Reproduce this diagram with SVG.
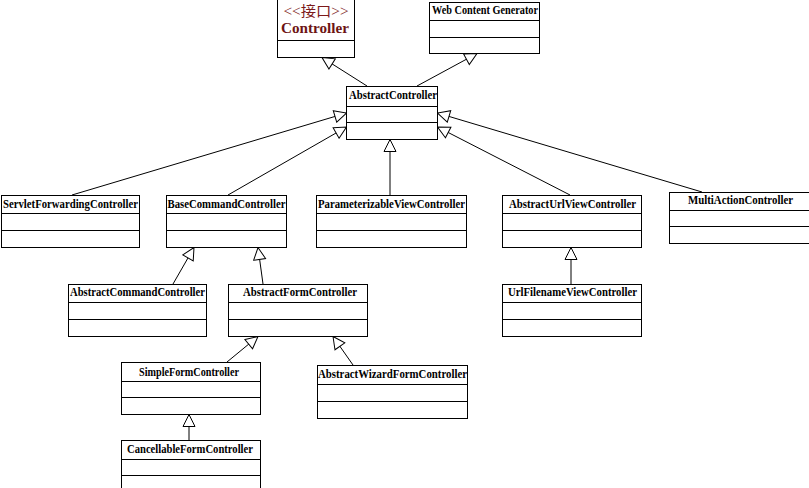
<svg xmlns="http://www.w3.org/2000/svg" width="809" height="488" viewBox="0 0 809 488">
<style>
.box{fill:#fff;stroke:#000;stroke-width:1}
.sep{stroke:#000;stroke-width:1}
.t{font-family:"Liberation Serif","Times New Roman",serif;font-weight:bold;font-size:11.5px;fill:#000;text-anchor:middle}
.c{stroke:#000;stroke-width:1;fill:none;marker-end:url(#gen)}
.st{font-family:"Liberation Serif","Noto Sans CJK SC",serif;font-size:14px;fill:#7d1a1a;text-anchor:middle}
.sn{font-family:"Liberation Serif","Times New Roman",serif;font-weight:bold;font-size:15px;fill:#6e1414;text-anchor:middle}
</style>
<defs>
<marker id="gen" markerUnits="userSpaceOnUse" markerWidth="14" markerHeight="14" viewBox="0 0 14 14" refX="13" refY="7" orient="auto">
<path d="M1,1 L13,7 L1,13 Z" fill="#fff" stroke="#000" stroke-width="1"/>
</marker>
</defs>
<rect width="809" height="488" fill="#fff"/>
<g id="connectors">
<line class="c" x1="367" y1="86" x2="322" y2="57.5"/>
<line class="c" x1="417" y1="86" x2="477" y2="53.5"/>
<line class="c" x1="72" y1="195" x2="346.5" y2="113"/>
<line class="c" x1="228" y1="195" x2="346.5" y2="127"/>
<line class="c" x1="390" y1="195" x2="390" y2="139.5"/>
<line class="c" x1="570" y1="195" x2="437.5" y2="127"/>
<line class="c" x1="702" y1="192" x2="437.5" y2="113"/>
<line class="c" x1="173" y1="284" x2="194" y2="247.5"/>
<line class="c" x1="263" y1="284" x2="258" y2="247.5"/>
<line class="c" x1="571" y1="284" x2="571" y2="247.5"/>
<line class="c" x1="227" y1="362" x2="258" y2="336.5"/>
<line class="c" x1="353" y1="365" x2="333" y2="336.5"/>
<line class="c" x1="189" y1="440" x2="189" y2="414.5"/>
</g>
<g id="Controller">
<rect class="box" x="277.5" y="-1.5" width="77" height="59"/>
<line class="sep" x1="277.5" y1="40.5" x2="354.5" y2="40.5"/>
<text class="st" x="316" y="16" textLength="65" lengthAdjust="spacingAndGlyphs">&lt;&lt;接口&gt;&gt;</text>
<text class="sn" x="315" y="33" textLength="68" lengthAdjust="spacingAndGlyphs">Controller</text>
</g>
<g id="WebContentGenerator">
<rect class="box" x="429.5" y="2.5" width="110" height="51"/>
<line class="sep" x1="429.5" y1="20.5" x2="539.5" y2="20.5"/>
<line class="sep" x1="429.5" y1="37.5" x2="539.5" y2="37.5"/>
<text class="t" x="485" y="14" textLength="106" lengthAdjust="spacingAndGlyphs">Web Content Generator</text>
</g>
<g id="AbstractController">
<rect class="box" x="346.5" y="86.5" width="91" height="53"/>
<line class="sep" x1="346.5" y1="106.5" x2="437.5" y2="106.5"/>
<line class="sep" x1="346.5" y1="122.5" x2="437.5" y2="122.5"/>
<text class="t" x="393" y="99" textLength="88" lengthAdjust="spacingAndGlyphs">AbstractController</text>
</g>
<g id="ServletForwardingController">
<rect class="box" x="1.5" y="195.5" width="138" height="52"/>
<line class="sep" x1="1.5" y1="213.5" x2="139.5" y2="213.5"/>
<line class="sep" x1="1.5" y1="230.5" x2="139.5" y2="230.5"/>
<text class="t" x="70.5" y="207.5" textLength="135" lengthAdjust="spacingAndGlyphs">ServletForwardingController</text>
</g>
<g id="BaseCommandController">
<rect class="box" x="166.5" y="195.5" width="120" height="52"/>
<line class="sep" x1="166.5" y1="213.5" x2="286.5" y2="213.5"/>
<line class="sep" x1="166.5" y1="230.5" x2="286.5" y2="230.5"/>
<text class="t" x="226.5" y="207.5" textLength="118" lengthAdjust="spacingAndGlyphs">BaseCommandController</text>
</g>
<g id="ParameterizableViewController">
<rect class="box" x="316.5" y="195.5" width="150" height="52"/>
<line class="sep" x1="316.5" y1="213.5" x2="466.5" y2="213.5"/>
<line class="sep" x1="316.5" y1="230.5" x2="466.5" y2="230.5"/>
<text class="t" x="391.5" y="207.5" textLength="147" lengthAdjust="spacingAndGlyphs">ParameterizableViewController</text>
</g>
<g id="AbstractUrlViewController">
<rect class="box" x="502.5" y="195.5" width="139" height="52"/>
<line class="sep" x1="502.5" y1="213.5" x2="641.5" y2="213.5"/>
<line class="sep" x1="502.5" y1="230.5" x2="641.5" y2="230.5"/>
<text class="t" x="572.5" y="207.5" textLength="127" lengthAdjust="spacingAndGlyphs">AbstractUrlViewController</text>
</g>
<g id="MultiActionController">
<rect class="box" x="669.5" y="192.5" width="143" height="51"/>
<line class="sep" x1="669.5" y1="210.5" x2="812.5" y2="210.5"/>
<line class="sep" x1="669.5" y1="226.5" x2="812.5" y2="226.5"/>
<text class="t" x="740.5" y="203.5" textLength="105" lengthAdjust="spacingAndGlyphs">MultiActionController</text>
</g>
<g id="AbstractCommandController">
<rect class="box" x="68.5" y="284.5" width="138" height="52"/>
<line class="sep" x1="68.5" y1="302.5" x2="206.5" y2="302.5"/>
<line class="sep" x1="68.5" y1="319.5" x2="206.5" y2="319.5"/>
<text class="t" x="137.5" y="296" textLength="135" lengthAdjust="spacingAndGlyphs">AbstractCommandController</text>
</g>
<g id="AbstractFormController">
<rect class="box" x="228.5" y="284.5" width="139" height="52"/>
<line class="sep" x1="228.5" y1="302.5" x2="367.5" y2="302.5"/>
<line class="sep" x1="228.5" y1="319.5" x2="367.5" y2="319.5"/>
<text class="t" x="300" y="296" textLength="114" lengthAdjust="spacingAndGlyphs">AbstractFormController</text>
</g>
<g id="UrlFilenameViewController">
<rect class="box" x="502.5" y="284.5" width="139" height="52"/>
<line class="sep" x1="502.5" y1="302.5" x2="641.5" y2="302.5"/>
<line class="sep" x1="502.5" y1="319.5" x2="641.5" y2="319.5"/>
<text class="t" x="572.5" y="296" textLength="129" lengthAdjust="spacingAndGlyphs">UrlFilenameViewController</text>
</g>
<g id="SimpleFormController">
<rect class="box" x="121.5" y="362.5" width="139" height="52"/>
<line class="sep" x1="121.5" y1="381.5" x2="260.5" y2="381.5"/>
<line class="sep" x1="121.5" y1="397.5" x2="260.5" y2="397.5"/>
<text class="t" x="189" y="375.5" textLength="100" lengthAdjust="spacingAndGlyphs">SimpleFormController</text>
</g>
<g id="AbstractWizardFormController">
<rect class="box" x="317.5" y="365.5" width="150" height="53"/>
<line class="sep" x1="317.5" y1="384.5" x2="467.5" y2="384.5"/>
<line class="sep" x1="317.5" y1="401.5" x2="467.5" y2="401.5"/>
<text class="t" x="392.5" y="378" textLength="149" lengthAdjust="spacingAndGlyphs">AbstractWizardFormController</text>
</g>
<g id="CancellableFormController">
<rect class="box" x="121.5" y="440.5" width="139" height="55"/>
<line class="sep" x1="121.5" y1="459.5" x2="260.5" y2="459.5"/>
<line class="sep" x1="121.5" y1="475.5" x2="260.5" y2="475.5"/>
<text class="t" x="190" y="452.5" textLength="126" lengthAdjust="spacingAndGlyphs">CancellableFormController</text>
</g>
</svg>
